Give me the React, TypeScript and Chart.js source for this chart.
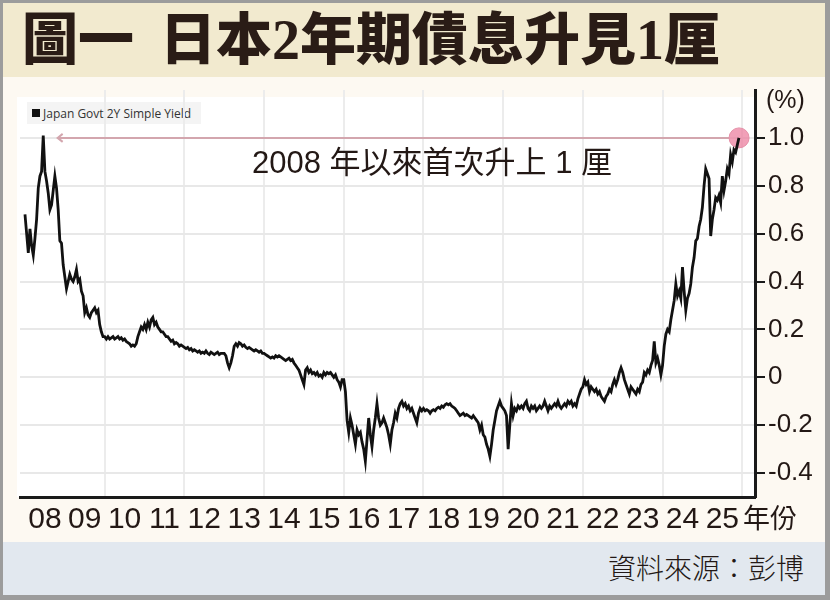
import { useEffect, useRef } from 'react';
import { Chart, registerables } from 'chart.js';

Chart.register(...registerables);

const titleLead = '圖一';
const titleMain = '日本2年期債息升見1厘';
const noteText = '2008 年以來首次升上 1 厘';
const sourceText = '資料來源：彭博';
const legendText = 'Japan Govt 2Y Simple Yield';
const unitText = '(%)';
const yearSuffix = '年份';

const years = [2008, 2009, 2010, 2011, 2012, 2013, 2014, 2015, 2016, 2017, 2018, 2019, 2020, 2021, 2022, 2023, 2024, 2025];
const yearLabels = ['08', '09', '10', '11', '12', '13', '14', '15', '16', '17', '18', '19', '20', '21', '22', '23', '24', '25'];
const gridYears = [2010, 2012, 2014, 2016, 2018, 2020, 2022, 2024, 2026];
const yTicks = [-0.4, -0.2, 0, 0.2, 0.4, 0.6, 0.8, 1.0];
const yTickLabels = ['-0.4', '-0.2', '0', '0.2', '0.4', '0.6', '0.8', '1.0'];

// two readings a month
const y2008 = [0.68, 0.60, 0.52, 0.62, 0.55, 0.51, 0.58, 0.66, 0.79, 0.84, 0.86, 1.01, 0.86, 0.82, 0.77, 0.70, 0.72, 0.78, 0.84, 0.79, 0.70, 0.57, 0.56, 0.47];
const y2009 = [0.42, 0.37, 0.40, 0.43, 0.41, 0.40, 0.42, 0.45, 0.40, 0.41, 0.36, 0.34, 0.27, 0.29, 0.26, 0.25, 0.27, 0.28, 0.29, 0.27, 0.28, 0.22, 0.19, 0.17];
const y2010 = [0.17, 0.16, 0.17, 0.16, 0.165, 0.17, 0.16, 0.165, 0.17, 0.16, 0.165, 0.155, 0.16, 0.15, 0.145, 0.14, 0.13, 0.135, 0.13, 0.14, 0.17, 0.19, 0.21, 0.20];
const y2011 = [0.22, 0.20, 0.23, 0.21, 0.24, 0.25, 0.22, 0.23, 0.21, 0.20, 0.19, 0.19, 0.18, 0.17, 0.17, 0.16, 0.15, 0.155, 0.14, 0.145, 0.14, 0.13, 0.135, 0.13];
const y2012 = [0.125, 0.12, 0.125, 0.115, 0.12, 0.11, 0.115, 0.11, 0.105, 0.11, 0.10, 0.105, 0.10, 0.11, 0.10, 0.095, 0.105, 0.10, 0.095, 0.10, 0.105, 0.095, 0.10, 0.10];
const y2013 = [0.10, 0.09, 0.06, 0.04, 0.06, 0.09, 0.13, 0.14, 0.13, 0.145, 0.14, 0.13, 0.135, 0.125, 0.12, 0.125, 0.12, 0.115, 0.11, 0.115, 0.11, 0.105, 0.11, 0.10];
const y2014 = [0.10, 0.095, 0.09, 0.085, 0.08, 0.085, 0.08, 0.09, 0.085, 0.09, 0.085, 0.08, 0.075, 0.07, 0.075, 0.08, 0.07, 0.075, 0.06, 0.05, 0.04, 0.03, 0.01, -0.01];
const y2015 = [-0.03, 0.03, 0.04, 0.02, 0.03, 0.015, 0.02, 0.01, 0.02, 0.005, 0.01, 0.0, 0.02, 0.01, 0.02, 0.015, 0.02, 0.01, 0.0, 0.01, -0.01, -0.02, -0.04, -0.01];
const y2016 = [-0.01, -0.06, -0.18, -0.23, -0.17, -0.20, -0.24, -0.28, -0.22, -0.24, -0.23, -0.27, -0.30, -0.35, -0.26, -0.17, -0.24, -0.29, -0.22, -0.17, -0.11, -0.17, -0.20, -0.19];
const y2017 = [-0.17, -0.19, -0.21, -0.24, -0.28, -0.22, -0.19, -0.15, -0.17, -0.13, -0.11, -0.10, -0.12, -0.11, -0.13, -0.12, -0.14, -0.13, -0.15, -0.17, -0.19, -0.15, -0.13, -0.14];
const y2018 = [-0.13, -0.14, -0.135, -0.14, -0.15, -0.14, -0.135, -0.14, -0.13, -0.125, -0.13, -0.12, -0.125, -0.115, -0.11, -0.115, -0.11, -0.12, -0.125, -0.13, -0.14, -0.15, -0.16, -0.155];
const y2019 = [-0.15, -0.16, -0.155, -0.16, -0.165, -0.17, -0.16, -0.17, -0.18, -0.19, -0.22, -0.20, -0.24, -0.25, -0.28, -0.30, -0.33, -0.28, -0.22, -0.18, -0.14, -0.12, -0.10, -0.12];
const y2020 = [-0.13, -0.14, -0.16, -0.30, -0.20, -0.11, -0.16, -0.13, -0.14, -0.12, -0.13, -0.12, -0.13, -0.11, -0.10, -0.13, -0.14, -0.12, -0.13, -0.12, -0.14, -0.13, -0.12, -0.13];
const y2021 = [-0.12, -0.10, -0.12, -0.14, -0.12, -0.13, -0.12, -0.11, -0.12, -0.10, -0.12, -0.13, -0.12, -0.11, -0.12, -0.10, -0.11, -0.10, -0.12, -0.11, -0.12, -0.09, -0.07, -0.05];
const y2022 = [-0.04, -0.01, -0.03, -0.02, -0.06, -0.04, -0.05, -0.06, -0.05, -0.07, -0.06, -0.08, -0.09, -0.10, -0.08, -0.07, -0.05, -0.06, -0.03, -0.01, -0.03, -0.01, 0.02, 0.04];
const y2023 = [0.02, -0.01, -0.03, -0.05, -0.07, -0.04, -0.05, -0.06, -0.07, -0.05, -0.06, -0.03, -0.02, 0.02, 0.01, 0.03, 0.02, 0.05, 0.07, 0.15, 0.06, 0.08, 0.05, 0.01];
const y2024 = [0.05, 0.13, 0.18, 0.20, 0.19, 0.24, 0.28, 0.32, 0.39, 0.34, 0.36, 0.33, 0.46, 0.36, 0.28, 0.33, 0.35, 0.39, 0.46, 0.50, 0.57, 0.58, 0.63, 0.66];
const y2025 = [0.71, 0.80, 0.87, 0.85, 0.83, 0.59, 0.66, 0.70, 0.75, 0.74, 0.76, 0.73, 0.84, 0.78, 0.82, 0.87, 0.85, 0.93, 0.90, 0.95, 0.94, 0.97, 1.00];

const yieldsByYear = [y2008, y2009, y2010, y2011, y2012, y2013, y2014, y2015, y2016, y2017, y2018, y2019, y2020, y2021, y2022, y2023, y2024, y2025];

// annotation: circle on the latest reading, arrow back to the 2008 high
const markerAt = { x: 2025.92, y: 1.0 };
const arrowTipAt = { x: 2008.82, y: 1.0 };

const cjk = "'Noto Sans CJK TC', 'Noto Sans CJK SC', sans-serif";
const latin = "'Liberation Sans', Arial";

const annotationPlugin = {
  id: 'peakArrow',
  beforeDatasetsDraw(chart: any) {
    const { ctx, scales } = chart;
    const cx = scales.x.getPixelForValue(markerAt.x);
    const cy = scales.y.getPixelForValue(markerAt.y);
    const tx = scales.x.getPixelForValue(arrowTipAt.x);
    const ty = scales.y.getPixelForValue(arrowTipAt.y);
    ctx.save();
    ctx.strokeStyle = '#d3a6ae';
    ctx.lineWidth = 2;
    ctx.beginPath();
    ctx.moveTo(cx - 10, cy);
    ctx.lineTo(tx, ty);
    ctx.stroke();
    ctx.beginPath();
    ctx.moveTo(tx + 5, ty - 4);
    ctx.lineTo(tx, ty);
    ctx.lineTo(tx + 5, ty + 4);
    ctx.stroke();
    ctx.beginPath();
    ctx.arc(cx, cy, 10, 0, Math.PI * 2);
    ctx.fillStyle = 'rgba(236, 128, 160, 0.75)';
    ctx.fill();
    ctx.strokeStyle = '#e590a8';
    ctx.lineWidth = 1;
    ctx.stroke();
    ctx.restore();
  },
};

export default function App() {
  const canvasRef = useRef<HTMLCanvasElement>(null);

  useEffect(() => {
    if (!canvasRef.current) return;

    const points = yieldsByYear.flatMap((vals, k) =>
      vals.map((v, i) => ({ x: years[k] + i / 24, y: v }))
    );

    const xTickValues = [...gridYears, ...years.map(y => y + 0.5)].sort((a, b) => a - b);

    const chart = new Chart(canvasRef.current, {
      type: 'line',
      data: {
        datasets: [{
          data: points,
          borderColor: '#111111',
          borderWidth: 2.8,
          pointRadius: 0,
          tension: 0,
        }],
      },
      options: {
        animation: false,
        responsive: true,
        maintainAspectRatio: false,
        layout: { padding: { left: 20, top: 90, right: 0, bottom: 57 } },
        plugins: { legend: { display: false }, tooltip: { enabled: false } },
        scales: {
          x: {
            type: 'linear',
            min: 2007.875,
            max: 2026.32,
            afterBuildTicks: (s: any) => { s.ticks = xTickValues.map(v => ({ value: v })); },
            afterFit: (s: any) => { s.height = 46; },
            grid: {
              color: (c: any) => (c.tick && gridYears.includes(c.tick.value) ? '#ececec' : 'rgba(0,0,0,0)'),
              lineWidth: 2,
              drawTicks: false,
            },
            border: { color: '#1a1a1a', width: 3 },
            ticks: {
              autoSkip: false,
              maxRotation: 0,
              padding: 5,
              color: '#231815',
              font: { family: "'Liberation Sans Narrow', 'Liberation Sans', Arial", size: 30 },
              callback: (v: any) => {
                const k = years.indexOf(Math.floor(v));
                return Number.isInteger(v) || k < 0 ? '' : yearLabels[k];
              },
            },
          },
          y: {
            position: 'right',
            min: -0.5,
            max: 1.2,
            afterBuildTicks: (s: any) => { s.ticks = yTicks.map(v => ({ value: v })); },
            afterFit: (s: any) => { s.width = 75; },
            grid: {
              color: '#e8e8e8',
              lineWidth: 2,
              tickColor: '#1a1a1a',
              tickWidth: 2,
              tickLength: 10,
            },
            border: { color: '#1a1a1a', width: 3 },
            ticks: {
              padding: 3,
              color: '#231815',
              font: { family: latin, size: 26 },
              callback: (v: any) => {
                const k = yTicks.findIndex(t => Math.abs(t - v) < 1e-6);
                return k < 0 ? '' : yTickLabels[k];
              },
            },
          },
        },
      },
      plugins: [annotationPlugin],
    } as any);

    return () => { chart.destroy(); };
  }, []);

  return (
    <div style={{ position: 'absolute', left: 0, top: 0, width: 830, height: 600, background: '#9c9c9c', overflow: 'hidden' }}>
      {/* title band */}
      <div style={{
        position: 'absolute', left: 3, top: 3, width: 822, height: 74, background: '#f2eacf',
        display: 'flex', alignItems: 'center',
      }}>
        <div style={{
          marginLeft: 19, fontFamily: `'Liberation Serif', ${cjk}`, fontWeight: 900, fontSize: 56,
          lineHeight: 1, color: '#2a1c16', whiteSpace: 'nowrap',
        }}>
          <span style={{ marginRight: 26 }}>{titleLead}</span>
          <span>{titleMain}</span>
        </div>
      </div>
      {/* middle */}
      <div style={{ position: 'absolute', left: 3, top: 77, width: 822, height: 465, background: '#fdf9f2' }} />
      <div style={{ position: 'absolute', left: 17, top: 97, width: 738, height: 400, background: '#ffffff' }} />
      {/* footer */}
      <div style={{ position: 'absolute', left: 3, top: 542, width: 822, height: 53, background: '#e2e8ef' }} />
      <div style={{
        position: 'absolute', right: 26, top: 553, fontFamily: cjk, fontSize: 28, lineHeight: 1,
        color: '#231815', fontWeight: 300, whiteSpace: 'nowrap',
      }}>{sourceText}</div>

      {/* legend */}
      <div style={{
        position: 'absolute', left: 27, top: 102, width: 174, height: 22, background: '#f4f4f4',
        display: 'flex', alignItems: 'center', fontFamily: "'Open Sans', sans-serif", fontSize: 12,
        color: '#333333', whiteSpace: 'nowrap',
      }}>
        <span style={{ display: 'inline-block', width: 8, height: 8, background: '#111', marginLeft: 5, marginRight: 3 }} />
        {legendText}
      </div>

      <div style={{ position: 'absolute', left: 0, top: 0, width: 830, height: 600 }}>
        <canvas ref={canvasRef} />
      </div>

      {/* overlay texts */}
      <div style={{
        position: 'absolute', left: 252, top: 147, fontFamily: `${latin}, ${cjk}`, fontSize: 31, lineHeight: 1,
        color: '#231815', whiteSpace: 'pre',
      }}>{noteText}</div>
      <div style={{
        position: 'absolute', left: 766, top: 87, fontFamily: latin, fontSize: 25, lineHeight: 1,
        color: '#231815',
      }}>{unitText}</div>
      <div style={{
        position: 'absolute', left: 743, top: 503, fontFamily: cjk, fontSize: 27, lineHeight: 1,
        color: '#231815', whiteSpace: 'nowrap',
      }}>{yearSuffix}</div>
    </div>
  );
}
